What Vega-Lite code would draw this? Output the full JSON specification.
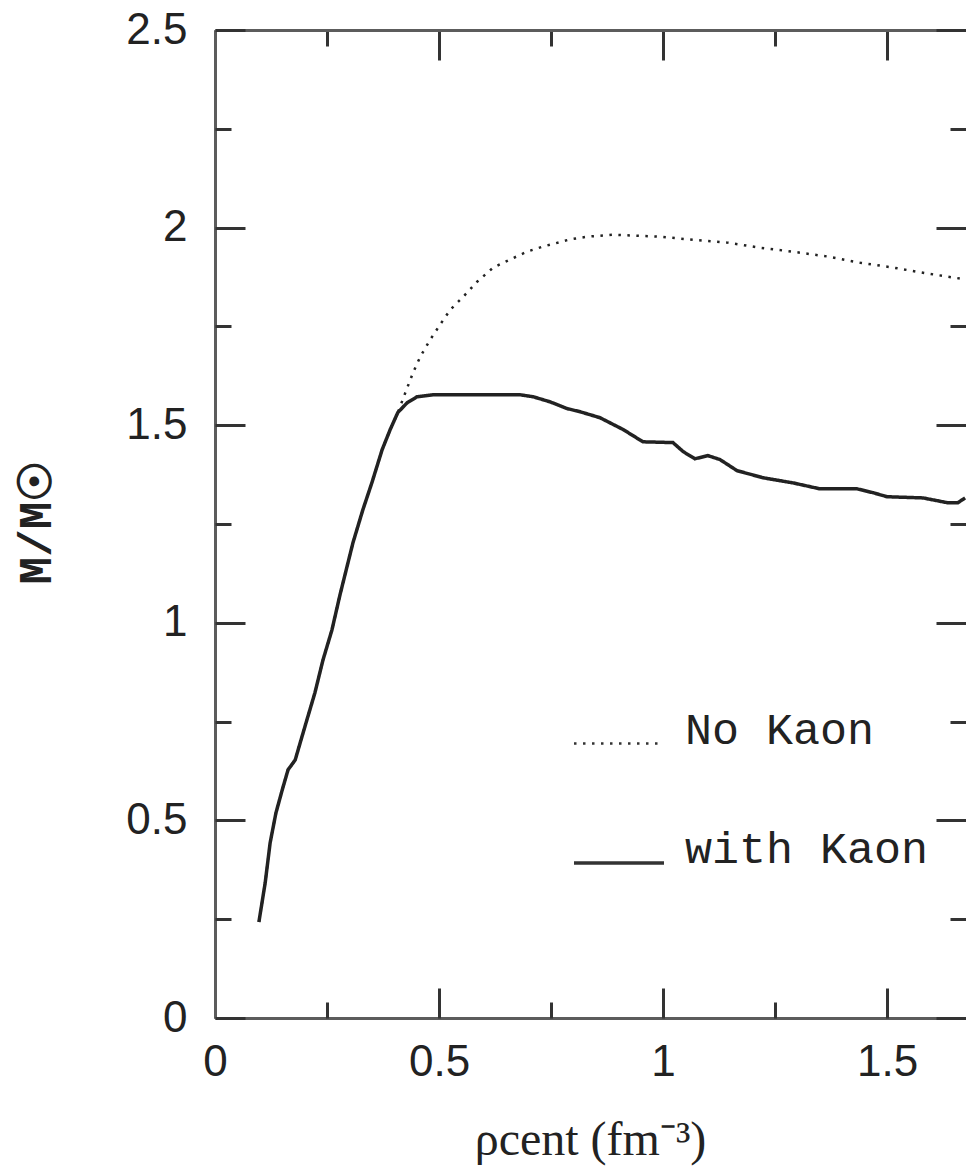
{
  "$schema": "https://vega.github.io/schema/vega-lite/v6.json",
  "width": 751,
  "height": 988,
  "autosize": {"type": "none"},
  "padding": {"left": 215, "top": 30, "right": 0, "bottom": 150},
  "background": "white",
  "config": {"view": {"stroke": null}, "axis": {"grid": false}},
  "datasets": {
    "curves": [
      {"series": "with Kaon", "rho": 0.098, "mass": 0.243},
      {"series": "with Kaon", "rho": 0.112, "mass": 0.342},
      {"series": "with Kaon", "rho": 0.123, "mass": 0.443},
      {"series": "with Kaon", "rho": 0.136, "mass": 0.519},
      {"series": "with Kaon", "rho": 0.150, "mass": 0.577},
      {"series": "with Kaon", "rho": 0.163, "mass": 0.628},
      {"series": "with Kaon", "rho": 0.179, "mass": 0.653},
      {"series": "with Kaon", "rho": 0.190, "mass": 0.696},
      {"series": "with Kaon", "rho": 0.205, "mass": 0.754},
      {"series": "with Kaon", "rho": 0.223, "mass": 0.823},
      {"series": "with Kaon", "rho": 0.241, "mass": 0.906},
      {"series": "with Kaon", "rho": 0.261, "mass": 0.982},
      {"series": "with Kaon", "rho": 0.279, "mass": 1.071},
      {"series": "with Kaon", "rho": 0.308, "mass": 1.203},
      {"series": "with Kaon", "rho": 0.330, "mass": 1.286},
      {"series": "with Kaon", "rho": 0.350, "mass": 1.354},
      {"series": "with Kaon", "rho": 0.373, "mass": 1.438},
      {"series": "with Kaon", "rho": 0.391, "mass": 1.489},
      {"series": "with Kaon", "rho": 0.408, "mass": 1.532},
      {"series": "with Kaon", "rho": 0.429, "mass": 1.557},
      {"series": "with Kaon", "rho": 0.451, "mass": 1.572},
      {"series": "with Kaon", "rho": 0.487, "mass": 1.577},
      {"series": "with Kaon", "rho": 0.681, "mass": 1.577},
      {"series": "with Kaon", "rho": 0.710, "mass": 1.572},
      {"series": "with Kaon", "rho": 0.748, "mass": 1.559},
      {"series": "with Kaon", "rho": 0.786, "mass": 1.542},
      {"series": "with Kaon", "rho": 0.815, "mass": 1.534},
      {"series": "with Kaon", "rho": 0.859, "mass": 1.519},
      {"series": "with Kaon", "rho": 0.911, "mass": 1.489},
      {"series": "with Kaon", "rho": 0.955, "mass": 1.458},
      {"series": "with Kaon", "rho": 1.022, "mass": 1.456},
      {"series": "with Kaon", "rho": 1.045, "mass": 1.433},
      {"series": "with Kaon", "rho": 1.071, "mass": 1.415},
      {"series": "with Kaon", "rho": 1.100, "mass": 1.423},
      {"series": "with Kaon", "rho": 1.127, "mass": 1.413},
      {"series": "with Kaon", "rho": 1.165, "mass": 1.385},
      {"series": "with Kaon", "rho": 1.223, "mass": 1.367},
      {"series": "with Kaon", "rho": 1.290, "mass": 1.354},
      {"series": "with Kaon", "rho": 1.350, "mass": 1.339},
      {"series": "with Kaon", "rho": 1.433, "mass": 1.339},
      {"series": "with Kaon", "rho": 1.469, "mass": 1.329},
      {"series": "with Kaon", "rho": 1.500, "mass": 1.319},
      {"series": "with Kaon", "rho": 1.580, "mass": 1.316},
      {"series": "with Kaon", "rho": 1.634, "mass": 1.304},
      {"series": "with Kaon", "rho": 1.658, "mass": 1.304},
      {"series": "with Kaon", "rho": 1.674, "mass": 1.316},
      {"series": "No Kaon", "rho": 0.098, "mass": 0.243},
      {"series": "No Kaon", "rho": 0.112, "mass": 0.342},
      {"series": "No Kaon", "rho": 0.123, "mass": 0.443},
      {"series": "No Kaon", "rho": 0.136, "mass": 0.519},
      {"series": "No Kaon", "rho": 0.150, "mass": 0.577},
      {"series": "No Kaon", "rho": 0.163, "mass": 0.628},
      {"series": "No Kaon", "rho": 0.179, "mass": 0.653},
      {"series": "No Kaon", "rho": 0.190, "mass": 0.696},
      {"series": "No Kaon", "rho": 0.205, "mass": 0.754},
      {"series": "No Kaon", "rho": 0.223, "mass": 0.823},
      {"series": "No Kaon", "rho": 0.241, "mass": 0.906},
      {"series": "No Kaon", "rho": 0.261, "mass": 0.982},
      {"series": "No Kaon", "rho": 0.279, "mass": 1.071},
      {"series": "No Kaon", "rho": 0.308, "mass": 1.203},
      {"series": "No Kaon", "rho": 0.330, "mass": 1.286},
      {"series": "No Kaon", "rho": 0.350, "mass": 1.354},
      {"series": "No Kaon", "rho": 0.373, "mass": 1.438},
      {"series": "No Kaon", "rho": 0.391, "mass": 1.489},
      {"series": "No Kaon", "rho": 0.408, "mass": 1.532},
      {"series": "No Kaon", "rho": 0.424, "mass": 1.580},
      {"series": "No Kaon", "rho": 0.442, "mass": 1.633},
      {"series": "No Kaon", "rho": 0.458, "mass": 1.673},
      {"series": "No Kaon", "rho": 0.480, "mass": 1.716},
      {"series": "No Kaon", "rho": 0.502, "mass": 1.754},
      {"series": "No Kaon", "rho": 0.525, "mass": 1.792},
      {"series": "No Kaon", "rho": 0.554, "mass": 1.825},
      {"series": "No Kaon", "rho": 0.585, "mass": 1.863},
      {"series": "No Kaon", "rho": 0.621, "mass": 1.899},
      {"series": "No Kaon", "rho": 0.658, "mass": 1.919},
      {"series": "No Kaon", "rho": 0.696, "mass": 1.939},
      {"series": "No Kaon", "rho": 0.732, "mass": 1.952},
      {"series": "No Kaon", "rho": 0.792, "mass": 1.970},
      {"series": "No Kaon", "rho": 0.830, "mass": 1.977},
      {"series": "No Kaon", "rho": 0.888, "mass": 1.982},
      {"series": "No Kaon", "rho": 0.993, "mass": 1.977},
      {"series": "No Kaon", "rho": 1.060, "mass": 1.970},
      {"series": "No Kaon", "rho": 1.143, "mass": 1.962},
      {"series": "No Kaon", "rho": 1.217, "mass": 1.949},
      {"series": "No Kaon", "rho": 1.290, "mass": 1.939},
      {"series": "No Kaon", "rho": 1.366, "mass": 1.927},
      {"series": "No Kaon", "rho": 1.440, "mass": 1.911},
      {"series": "No Kaon", "rho": 1.513, "mass": 1.899},
      {"series": "No Kaon", "rho": 1.589, "mass": 1.884},
      {"series": "No Kaon", "rho": 1.663, "mass": 1.871},
      {"series": "No Kaon", "rho": 1.676, "mass": 1.868}
    ]
  },
  "data": {"name": "curves"},
  "layer": [
    {
      "mark": {"type": "line", "color": "#222222", "clip": true},
      "encoding": {
        "x": {
          "field": "rho", "type": "quantitative",
          "scale": {"domain": [0, 1.676], "nice": false, "zero": false},
          "axis": {
            "orient": "bottom", "values": [0, 0.5, 1, 1.5], "ticks": false, "format": "~g",
            "domain": true, "domainColor": "#5c5c5c", "domainWidth": 3,
            "labelFont": "Liberation Sans", "labelFontSize": 44, "labelColor": "#222222",
            "labelPadding": 22, "labelFlush": false,
            "title": "ρcent  (fm⁻³)", "titleFont": "Liberation Serif", "titleFontSize": 48,
            "titleFontWeight": "normal", "titleColor": "#222222",
            "titleX": 375, "titleY": 136, "titleBaseline": "alphabetic", "titleAlign": "center"
          }
        },
        "y": {
          "field": "mass", "type": "quantitative",
          "scale": {"domain": [0, 2.5], "nice": false, "zero": false},
          "axis": {
            "orient": "left", "values": [0, 0.5, 1, 1.5, 2, 2.5], "ticks": false, "format": "~g",
            "domain": true, "domainColor": "#5c5c5c", "domainWidth": 3,
            "labelFont": "Liberation Sans", "labelFontSize": 44, "labelColor": "#222222",
            "labelPadding": 28, "labelFlush": false,
            "title": "M/M☉", "titleFont": "Liberation Mono", "titleFontSize": 46,
            "titleFontWeight": "bold", "titleColor": "#222222", "titleAngle": -90,
            "titleX": -165, "titleY": 492, "titleBaseline": "alphabetic", "titleAlign": "center"
          }
        },
        "strokeDash": {
          "field": "series", "type": "nominal",
          "scale": {"domain": ["No Kaon", "with Kaon"], "range": [[2.5, 6.5], [1, 0]]},
          "legend": {
            "title": null, "orient": "none", "legendX": 357, "legendY": 667,
            "symbolType": "stroke", "symbolSize": 8100, "symbolStrokeColor": "#333333",
            "labelFont": "Liberation Mono", "labelFontSize": 45, "labelColor": "#222222",
            "labelOffset": 19, "labelBaseline": "alphabetic", "labelLimit": 0,
            "rowPadding": 63, "padding": 0
          }
        },
        "strokeWidth": {
          "field": "series", "type": "nominal",
          "scale": {"domain": ["No Kaon", "with Kaon"], "range": [2.5, 3.5]},
          "legend": {
            "title": null, "orient": "none", "legendX": 357, "legendY": 667,
            "symbolType": "stroke", "symbolSize": 8100, "symbolStrokeColor": "#333333",
            "labelFont": "Liberation Mono", "labelFontSize": 45, "labelColor": "#222222",
            "labelOffset": 19, "labelBaseline": "alphabetic", "labelLimit": 0,
            "rowPadding": 63, "padding": 0
          }
        }
      }
    },
    {
      "mark": {"type": "point", "opacity": 0},
      "encoding": {
        "x": {
          "field": "rho", "type": "quantitative",
          "scale": {"domain": [0, 1.676], "nice": false, "zero": false},
          "axis": {
            "orient": "top", "values": [0, 0.25, 0.5, 0.75, 1, 1.25, 1.5],
            "labels": false, "title": null,
            "domain": true, "domainColor": "#5c5c5c", "domainWidth": 3,
            "ticks": true, "tickColor": "#333333", "tickWidth": 3,
            "tickSize": {"condition": {"test": "datum.value % 0.5 === 0", "value": -30}, "value": -16}
          }
        },
        "y": {
          "field": "mass", "type": "quantitative",
          "scale": {"domain": [0, 2.5], "nice": false, "zero": false},
          "axis": {
            "orient": "right", "values": [0, 0.25, 0.5, 0.75, 1, 1.25, 1.5, 1.75, 2, 2.25, 2.5],
            "labels": false, "title": null, "domain": false,
            "ticks": true, "tickColor": "#333333", "tickWidth": 3,
            "tickSize": {"condition": {"test": "datum.value % 0.5 === 0", "value": -30}, "value": -16}
          }
        }
      }
    },
    {
      "mark": {"type": "point", "opacity": 0},
      "encoding": {
        "x": {
          "field": "rho", "type": "quantitative",
          "scale": {"domain": [0, 1.676], "nice": false, "zero": false},
          "axis": {
            "orient": "bottom", "values": [0, 0.25, 0.5, 0.75, 1, 1.25, 1.5],
            "labels": false, "title": null, "domain": false,
            "ticks": true, "tickColor": "#333333", "tickWidth": 3,
            "tickSize": {"condition": {"test": "datum.value % 0.5 === 0", "value": -30}, "value": -16}
          }
        },
        "y": {
          "field": "mass", "type": "quantitative",
          "scale": {"domain": [0, 2.5], "nice": false, "zero": false},
          "axis": {
            "orient": "left", "values": [0, 0.25, 0.5, 0.75, 1, 1.25, 1.5, 1.75, 2, 2.25, 2.5],
            "labels": false, "title": null, "domain": false,
            "ticks": true, "tickColor": "#333333", "tickWidth": 3,
            "tickSize": {"condition": {"test": "datum.value % 0.5 === 0", "value": -30}, "value": -16}
          }
        }
      }
    }
  ],
  "resolve": {"axis": {"x": "independent", "y": "independent"}}
}
